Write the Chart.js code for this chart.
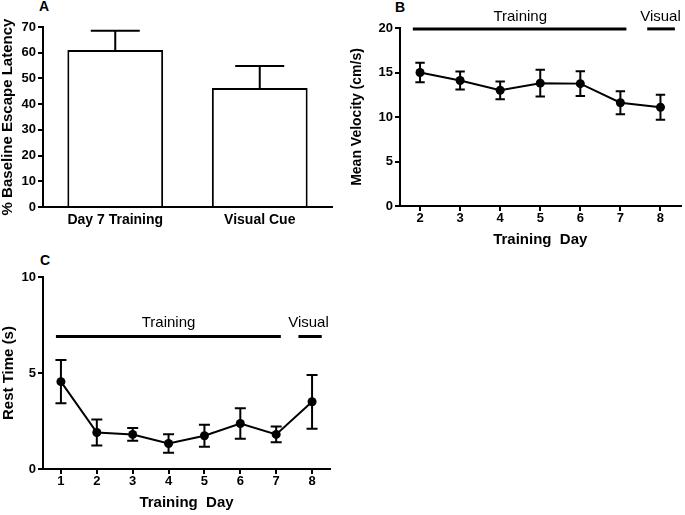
<!DOCTYPE html>
<html>
<head>
<meta charset="utf-8">
<script src="https://cdn.jsdelivr.net/npm/chart.js@4.4.1/dist/chart.umd.min.js"></script>
<style>
  html, body { margin: 0; padding: 0; background: #fff; }
  body { width: 685px; height: 515px; position: relative; overflow: hidden; font-family: "Liberation Sans", Arial, sans-serif; }
  .panel { position: absolute; }
  .tag { position: absolute; font-weight: bold; font-size: 14px; line-height: 1; color: #000; }
</style>
</head>
<body>
<div class="tag" style="left:39px; top:-1px;">A</div>
<div class="tag" style="left:395px; top:0px;">B</div>
<div class="tag" style="left:40px; top:253px;">C</div>

<div class="panel" style="left:0; top:0; width:340px; height:235px;"><canvas id="chartA"></canvas></div>
<div class="panel" style="left:340px; top:0; width:345px; height:250px;"><canvas id="chartB"></canvas></div>
<div class="panel" style="left:0; top:240px; width:345px; height:275px;"><canvas id="chartC"></canvas></div>

<script>
// Panel A: % baseline escape latency
const latencyLabels = ["Day 7 Training", "Visual Cue"];
const latencyMeans = [61.1, 46.3];
const latencyErr = [7.4, 8.5];
const latencyTicks = [0, 10, 20, 30, 40, 50, 60, 70];

// Panel B: mean velocity
const velocityDays = [2, 3, 4, 5, 6, 7, 8];
const velocityMeans = [15.0, 14.1, 13.0, 13.8, 13.75, 11.6, 11.1];
const velocityErr = [1.1, 1.0, 1.0, 1.5, 1.4, 1.3, 1.4];
const velocityTicks = [0, 5, 10, 15, 20];
const velocityTrainingSpan = [1.82, 7.15];
const velocityVisualSpan = [7.67, 8.36];
const velocitySpanLevel = 19.9;
const velocityLabelLevel = 21.2;
const velocityLabelDays = [4.5, 8.0];

// Panel C: rest time
const restDays = [1, 2, 3, 4, 5, 6, 7, 8];
const restMeans = [4.55, 1.9, 1.8, 1.33, 1.73, 2.37, 1.8, 3.5];
const restErr = [1.13, 0.68, 0.33, 0.48, 0.57, 0.79, 0.41, 1.4];
const restTicks = [0, 5, 10];
const restTrainingSpan = [0.86, 7.13];
const restVisualSpan = [7.62, 8.27];
const restSpanLevel = 6.9;
const restLabelLevel = 7.6;
const restLabelDays = [4.0, 7.9];

const spanNames = ["Training", "Visual"];

const FONT = "'Liberation Sans', Arial, sans-serif";
Chart.defaults.color = "#000";
Chart.defaults.font.family = FONT;
Chart.defaults.animation = false;

function tickFont(size) {
  return { family: FONT, size: size, weight: "bold" };
}

function errorBarPlugin(id, means, errs, capHalf, upOnly) {
  return {
    id,
    afterDatasetsDraw(chart) {
      const meta = chart.getDatasetMeta(0);
      const yScale = chart.scales.y;
      const ctx = chart.ctx;
      ctx.save();
      ctx.strokeStyle = "#000";
      ctx.lineWidth = 2;
      meta.data.forEach((el, i) => {
        const x = el.x;
        const top = yScale.getPixelForValue(means[i] + errs[i]);
        const bottom = upOnly
          ? yScale.getPixelForValue(means[i])
          : yScale.getPixelForValue(means[i] - errs[i]);
        ctx.beginPath();
        ctx.moveTo(x, top);
        ctx.lineTo(x, bottom);
        ctx.moveTo(x - capHalf, top);
        ctx.lineTo(x + capHalf, top);
        if (!upOnly) {
          ctx.moveTo(x - capHalf, bottom);
          ctx.lineTo(x + capHalf, bottom);
        }
        ctx.stroke();
      });
      ctx.restore();
    }
  };
}

function spanLabelPlugin(id, names, days, level) {
  return {
    id,
    afterDraw(chart) {
      const ctx = chart.ctx;
      ctx.save();
      ctx.fillStyle = "#000";
      ctx.font = "15px " + FONT;
      ctx.textAlign = "center";
      ctx.textBaseline = "middle";
      names.forEach((name, i) => {
        ctx.fillText(name, chart.scales.x.getPixelForValue(days[i]), chart.scales.y.getPixelForValue(level));
      });
      ctx.restore();
    }
  };
}

function spanDataset(span, level) {
  return {
    type: "line",
    data: span.map((d) => ({ x: d, y: level })),
    borderColor: "#000",
    borderWidth: 3,
    pointRadius: 0,
    clip: false
  };
}

function lineChart(canvasId, cfg) {
  return new Chart(document.getElementById(canvasId), {
    type: "line",
    data: {
      datasets: [
        {
          data: cfg.days.map((d, i) => ({ x: d, y: cfg.means[i] })),
          borderColor: "#000",
          backgroundColor: "#000",
          borderWidth: 2,
          tension: 0,
          pointRadius: 4.5,
          pointBackgroundColor: "#000",
          pointBorderWidth: 0
        },
        spanDataset(cfg.trainingSpan, cfg.spanLevel),
        spanDataset(cfg.visualSpan, cfg.spanLevel)
      ]
    },
    options: {
      responsive: true,
      maintainAspectRatio: false,
      layout: { padding: cfg.padding },
      plugins: { legend: { display: false }, tooltip: { enabled: false } },
      scales: {
        x: {
          type: "linear",
          min: cfg.xMin,
          max: cfg.xMax,
          afterBuildTicks: (scale) => { scale.ticks = cfg.days.map((v) => ({ value: v })); },
          afterFit: (scale) => { scale.height = cfg.xHeight; },
          ticks: { font: tickFont(13), padding: 0, maxRotation: 0 },
          grid: { drawOnChartArea: false, tickLength: 5, color: "#000", lineWidth: 2 },
          border: { color: "#000", width: 2 },
          title: {
            display: true,
            text: "Training  Day",
            font: { family: FONT, size: 15, weight: "bold" },
            padding: { top: 0, bottom: cfg.xTitlePad }
          }
        },
        y: {
          min: cfg.yTicks[0],
          max: cfg.yTicks[cfg.yTicks.length - 1],
          afterBuildTicks: (scale) => { scale.ticks = cfg.yTicks.map((v) => ({ value: v })); },
          afterFit: (scale) => { scale.width = cfg.yWidth; },
          ticks: { font: tickFont(13), padding: 2 },
          grid: { drawOnChartArea: false, tickLength: 5, color: "#000", lineWidth: 2 },
          border: { color: "#000", width: 2 },
          title: {
            display: true,
            text: cfg.yTitle,
            font: { family: FONT, size: cfg.yTitleSize, weight: "bold" },
            padding: { top: cfg.yTitlePad, bottom: 0 }
          }
        }
      }
    },
    plugins: [
      errorBarPlugin(canvasId + "Err", cfg.means, cfg.errs, cfg.capHalf, false),
      spanLabelPlugin(canvasId + "Span", spanNames, cfg.labelDays, cfg.labelLevel)
    ]
  });
}

// Panel A
new Chart(document.getElementById("chartA"), {
  type: "bar",
  data: {
    labels: latencyLabels,
    datasets: [{
      data: latencyMeans,
      backgroundColor: "#fff",
      borderColor: "#000",
      borderWidth: 2,
      barPercentage: 0.663,
      categoryPercentage: 1
    }]
  },
  options: {
    responsive: true,
    maintainAspectRatio: false,
    layout: { padding: { top: 27, right: 8, left: 0, bottom: 0 } },
    plugins: { legend: { display: false }, tooltip: { enabled: false } },
    scales: {
      x: {
        afterFit: (scale) => { scale.height = 28; },
        ticks: { font: tickFont(14), padding: 5, maxRotation: 0 },
        grid: { display: false, drawTicks: false },
        border: { color: "#000", width: 2 }
      },
      y: {
        min: 0,
        max: 70,
        afterBuildTicks: (scale) => { scale.ticks = latencyTicks.map((v) => ({ value: v })); },
        afterFit: (scale) => { scale.width = 43; },
        ticks: { font: tickFont(13), padding: 2 },
        grid: { drawOnChartArea: false, tickLength: 5, color: "#000", lineWidth: 2 },
        border: { color: "#000", width: 2 },
        title: {
          display: true,
          text: "% Baseline Escape Latency",
          font: { family: FONT, size: 15, weight: "bold", lineHeight: 1 },
          padding: 0
        }
      }
    }
  },
  plugins: [errorBarPlugin("chartAErr", latencyMeans, latencyErr, 24.5, true)]
});

// Panel B
lineChart("chartB", {
  days: velocityDays,
  means: velocityMeans,
  errs: velocityErr,
  yTicks: velocityTicks,
  trainingSpan: velocityTrainingSpan,
  visualSpan: velocityVisualSpan,
  spanLevel: velocitySpanLevel,
  labelLevel: velocityLabelLevel,
  labelDays: velocityLabelDays,
  xMin: 1.5,
  xMax: 8.5,
  padding: { top: 28, right: 1.5, left: 0, bottom: 0 },
  xHeight: 44,
  yWidth: 60,
  xTitlePad: 1,
  yTitle: "Mean Velocity (cm/s)",
  yTitleSize: 14,
  yTitlePad: 9,
  capHalf: 4.7
});

// Panel C
lineChart("chartC", {
  days: restDays,
  means: restMeans,
  errs: restErr,
  yTicks: restTicks,
  trainingSpan: restTrainingSpan,
  visualSpan: restVisualSpan,
  spanLevel: restSpanLevel,
  labelLevel: restLabelLevel,
  labelDays: restLabelDays,
  xMin: 0.5,
  xMax: 8.5,
  padding: { top: 37, right: 15, left: 0, bottom: 0 },
  xHeight: 46,
  yWidth: 43,
  xTitlePad: 3,
  yTitle: "Rest Time (s)",
  yTitleSize: 15,
  yTitlePad: 0,
  capHalf: 5.5
});
</script>
</body>
</html>
